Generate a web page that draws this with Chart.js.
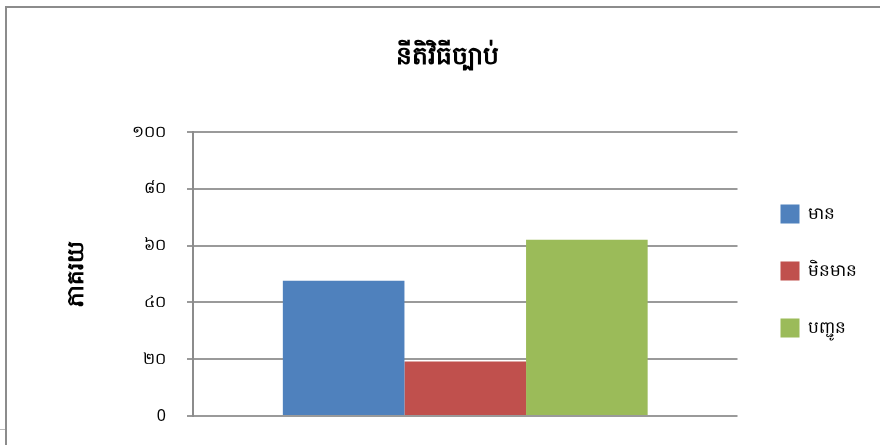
<!DOCTYPE html>
<html>
<head>
<meta charset="utf-8">
<script src="https://cdn.jsdelivr.net/npm/chart.js@4/dist/chart.umd.min.js"></script>
<style>
  html, body { margin: 0; padding: 0; background: #fff; }
  #wrap { position: relative; width: 880px; height: 445px; overflow: hidden; }
  #frame { position: absolute; left: 5px; top: 6px; width: 900px; height: 460px; border-left: 2px solid #8c8c8c; border-top: 2px solid #8c8c8c; box-sizing: border-box; }
  #nick { position: absolute; left: 0; top: 429px; width: 5px; height: 1px; background: #bbb; }
  canvas { position: absolute; left: 0; top: 0; }
</style>
</head>
<body>
<div id="wrap">
  <div id="frame"></div>
  <div id="nick"></div>
  <canvas id="c" width="880" height="445"></canvas>
</div>
<script>
const categories = [''];
const seriesNames = ['មាន', 'មិនមាន', 'បញ្ជូន'];
const seriesValues = [[47.6], [19.2], [62.1]];
const seriesColors = ['#4f81bd', '#c0504d', '#9bbb59'];
const tickValues = [0, 20, 40, 60, 80, 100];
const tickLabels = ['0', '២០', '៤០', '៦០', '៨០', '១០០'];
const chartTitle = 'នីតិវិធីច្បាប់';
const yTitle = 'ភាគរយ';

const FONT = "'Noto Sans', 'DejaVu Sans', sans-serif";

// nudge legend and title boxes to the reference positions
const boxShift = {
  id: 'boxShift',
  afterLayout(chart) {
    const lg = chart.legend;
    if (lg) { lg.left += 5; lg.right += 5; lg.top += 63; lg.bottom += 63; }
    const tb = chart.titleBlock;
    if (tb) { tb.left += 16; tb.right += 16; }
  }
};

const ctx = document.getElementById('c');
new Chart(ctx, {
  type: 'bar',
  data: {
    labels: categories,
    datasets: seriesNames.map((n, i) => ({
      label: n,
      data: seriesValues[i],
      backgroundColor: seriesColors[i],
      borderWidth: 0,
      categoryPercentage: 0.67,
      barPercentage: 1.0
    }))
  },
  plugins: [boxShift],
  options: {
    responsive: false,
    animation: false,
    devicePixelRatio: 1,
    layout: { padding: { left: 0, right: 18, top: 0, bottom: 29 } },
    plugins: {
      title: {
        display: true,
        text: chartTitle,
        color: '#000',
        font: { family: FONT, size: 25, weight: 'bold' },
        padding: { top: 42, bottom: 60 }
      },
      legend: {
        position: 'right',
        align: 'center',
        labels: {
          color: '#000',
          font: { family: FONT, size: 17 },
          boxWidth: 19,
          boxHeight: 19,
          padding: 38
        }
      },
      tooltip: { enabled: false }
    },
    scales: {
      x: {
        grid: { display: false, drawTicks: false },
        border: { display: false },
        ticks: { display: false },
        afterFit: (scale) => { scale.height = 0; scale.paddingLeft = 0; scale.paddingRight = 0; }
      },
      y: {
        min: 0,
        max: 100,
        afterBuildTicks: (scale) => { scale.ticks = tickValues.map(v => ({ value: v })); },
        afterFit: (scale) => { scale.width = 193; scale.paddingTop = 0; scale.paddingBottom = 0; },
        ticks: {
          color: '#000',
          font: { family: FONT, size: 16 },
          padding: 21,
          callback: (v) => tickLabels[tickValues.indexOf(v)]
        },
        grid: { color: '#9a9a9a', lineWidth: 2, tickLength: 6, tickColor: '#9a9a9a' },
        border: { color: '#8c8c8c', width: 2 },
        title: {
          display: true,
          text: yTitle,
          color: '#000',
          font: { family: FONT, size: 23, weight: 'bold' },
          padding: { top: 63, bottom: 0 }
        }
      }
    }
  }
});
</script>
</body>
</html>
